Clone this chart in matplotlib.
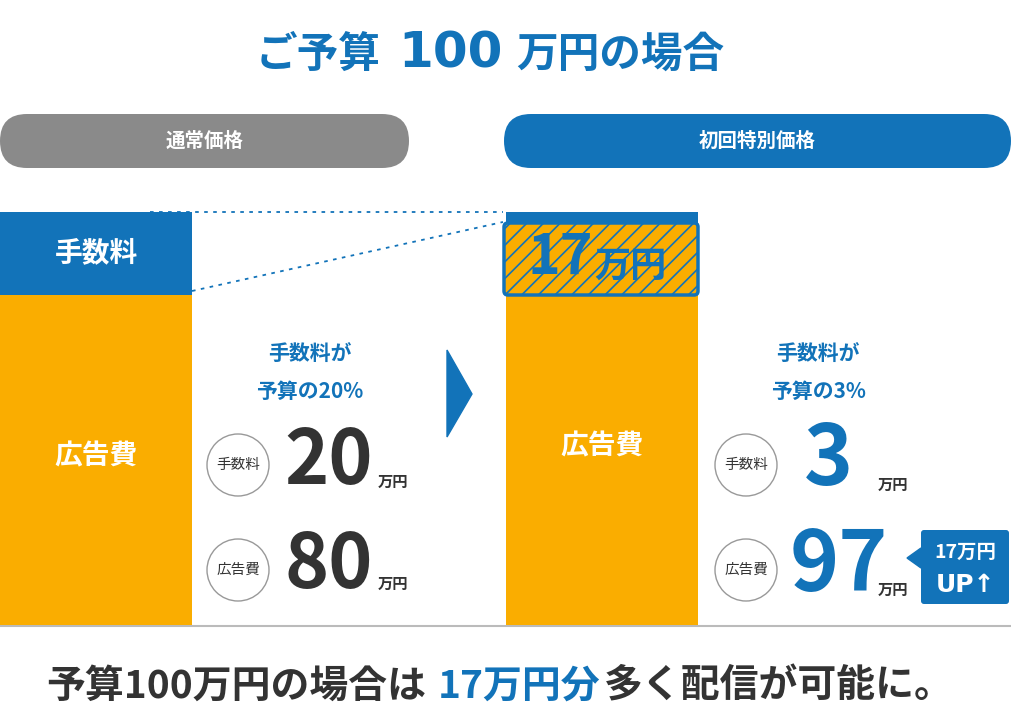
import matplotlib
matplotlib.use("Agg")
import matplotlib.pyplot as plt
from matplotlib.patches import FancyBboxPatch, Circle, Polygon

plt.rcParams['font.family'] = ['Noto Sans CJK JP', 'DejaVu Sans']
plt.rcParams['hatch.linewidth'] = 1.2

BLUE = "#1273b9"
ORANGE = "#faad00"
GRAY = "#8a8a8a"
DARK = "#333333"

# data
plans = ["通常価格", "初回特別価格"]
fee_pct = [20, 3]
ad_pct = [80, 97]
fee_man = [20, 3]
ad_man = [80, 97]
budget = 100
saving = 17

fig = plt.figure(figsize=(10.11, 7.18), dpi=100)
ax = fig.add_axes([0, 0, 1, 1])
ax.set_xlim(0, 1011)
ax.set_ylim(718, 0)
ax.axis("off")

# bars (pixel coordinate space; 100% = 413px)
bar_top, bar_bot = 212, 625
scale = (bar_bot - bar_top) / budget
bar_x = [96, 602]
bar_w = 192
for i in range(2):
    ax.bar(bar_x[i], ad_pct[i] * scale, bottom=bar_bot - ad_pct[i] * scale,
           width=bar_w, color=ORANGE, zorder=2)
    ax.bar(bar_x[i], fee_pct[i] * scale, bottom=bar_top,
           width=bar_w, color=BLUE, zorder=2)

ax.axhline(626, color="#bbbbbb", lw=1.5, zorder=1)

# dotted guide lines
ax.plot([150, 503], [212, 212], ls=(0, (2, 3)), color=BLUE, lw=1.3)
ax.plot([192, 503], [291, 222], ls=(0, (2, 3)), color=BLUE, lw=1.3)

# hatched saving box
hb = FancyBboxPatch((504, 223), 194, 72, boxstyle="round,pad=0,rounding_size=4",
                    facecolor=ORANGE, edgecolor=BLUE, lw=2.5, hatch="//", zorder=3)
ax.add_patch(hb)
ax.text(528, 258, f"{saving}", fontsize=40, fontweight="bold", color=BLUE,
        ha="left", va="center", zorder=4)
ax.text(594, 266, "万円", fontsize=26, fontweight="bold", color=BLUE,
        ha="left", va="center", zorder=4)

# bar labels
ax.text(96, 253, "手数料", fontsize=20, fontweight="bold", color="white", ha="center", va="center", zorder=4)
ax.text(96, 456, "広告費", fontsize=20, fontweight="bold", color="white", ha="center", va="center", zorder=4)
ax.text(602, 446, "広告費", fontsize=20, fontweight="bold", color="white", ha="center", va="center", zorder=4)

# title
ax.text(256, 55, "ご予算", fontsize=30, fontweight="bold", color=BLUE, ha="left", va="center")
ax.text(398, 53, f"{budget}", fontsize=36, fontweight="bold", color=BLUE, ha="left", va="center",
        family=["DejaVu Sans"])
ax.text(516, 55, "万円の場合", fontsize=30, fontweight="bold", color=BLUE, ha="left", va="center")

# pills
for (x0, x1, c, label) in [(0, 409, GRAY, plans[0]), (504, 1011, BLUE, plans[1])]:
    ax.add_patch(FancyBboxPatch((x0, 114), x1 - x0, 54,
                                boxstyle="round,pad=0,rounding_size=27",
                                facecolor=c, edgecolor="none"))
    ax.text((x0 + x1) / 2, 141, label, fontsize=14, fontweight="bold", color="white",
            ha="center", va="center")

# arrow
ax.add_patch(Polygon([[447, 350], [472, 394], [447, 437]], closed=True, color=BLUE))

# side descriptions
cols = [(310, DARK), (818, BLUE)]
for i, (cx, numc) in enumerate(cols):
    ax.text(cx, 354, "手数料が", fontsize=15, fontweight="bold", color=BLUE, ha="center", va="center")
    ax.text(cx, 391, f"予算の{fee_pct[i]}%", fontsize=15, fontweight="bold", color=BLUE, ha="center", va="center")
    ccx = cx - 72
    for cy, lab in [(465, "手数料"), (570, "広告費")]:
        ax.add_patch(Circle((ccx, cy), 31, facecolor="white", edgecolor="#999999", lw=1))
        ax.text(ccx, cy, lab, fontsize=10.5, color=DARK, ha="center", va="center")

# left numbers
ax.text(284, 462, f"{fee_man[0]}", fontsize=54, fontweight="bold", color=DARK, ha="left", va="center")
ax.text(378, 482, "万円", fontsize=11, fontweight="bold", color=DARK, ha="left", va="center")
ax.text(284, 566, f"{ad_man[0]}", fontsize=54, fontweight="bold", color=DARK, ha="left", va="center")
ax.text(378, 584, "万円", fontsize=11, fontweight="bold", color=DARK, ha="left", va="center")
# right numbers
ax.text(828, 460, f"{fee_man[1]}", fontsize=60, fontweight="bold", color=BLUE, ha="center", va="center")
ax.text(878, 485, "万円", fontsize=11, fontweight="bold", color=DARK, ha="left", va="center")
ax.text(790, 566, f"{ad_man[1]}", fontsize=60, fontweight="bold", color=BLUE, ha="left", va="center")
ax.text(878, 590, "万円", fontsize=11, fontweight="bold", color=DARK, ha="left", va="center")

# UP badge
ax.add_patch(FancyBboxPatch((921, 530), 88, 74, boxstyle="round,pad=0,rounding_size=3",
                            facecolor=BLUE, edgecolor="none"))
ax.add_patch(Polygon([[921, 548], [907, 558], [921, 568]], closed=True, color=BLUE))
ax.text(965, 552, f"{saving}万円", fontsize=14, fontweight="bold", color="white", ha="center", va="center")
ax.text(965, 585, "UP↑", fontsize=18, fontweight="bold", color="white", ha="center", va="center",
        family=["DejaVu Sans"])

# bottom message
ax.text(46, 686, f"予算{budget}万円の場合は", fontsize=28, fontweight="bold", color=DARK, ha="left", va="center")
ax.text(438, 686, f"{saving}万円分", fontsize=28, fontweight="bold", color=BLUE, ha="left", va="center")
ax.text(604, 686, "多く配信が可能に。", fontsize=28, fontweight="bold", color=DARK, ha="left", va="center")

fig.savefig("out.png", dpi=100)
